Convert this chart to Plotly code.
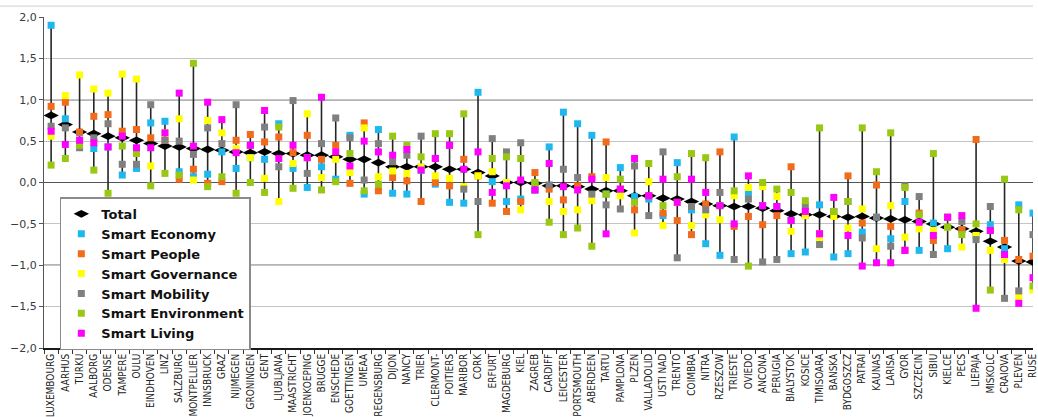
import plotly.graph_objects as go

cities = ["LUXEMBOURG", "AARHUS", "TURKU", "AALBORG", "ODENSE", "TAMPERE", "OULU", "EINDHOVEN",
          "LINZ", "SALZBURG", "MONTPELLIER", "INNSBRUCK", "GRAZ", "NIJMEGEN", "GRONINGEN", "GENT",
          "LJUBLJANA", "MAASTRICHT", "JOENKOEPING", "BRUGGE", "ENSCHEDE", "GOETTINGEN", "UMEAA",
          "REGENSBURG", "DIJON", "NANCY", "TRIER", "CLERMONT-", "POITIERS", "MARIBOR", "CORK",
          "ERFURT", "MAGDEBURG", "KIEL", "ZAGREB", "CARDIFF", "LEICESTER", "PORTSMOUTH", "ABERDEEN",
          "TARTU", "PAMPLONA", "PLZEN", "VALLADOLID", "USTI NAD", "TRENTO", "COIMBRA", "NITRA",
          "RZESZOW", "TRIESTE", "OVIEDO", "ANCONA", "PERUGIA", "BIALYSTOK", "KOSICE", "TIMISOARA",
          "BANSKA", "BYDGOSZCZ", "PATRAI", "KAUNAS", "LARISA", "GYOR", "SZCZECIN", "SIBIU",
          "KIELCE", "PECS", "LIEPAJA", "MISKOLC", "CRAIOVA", "PLEVEN", "RUSE"]

total = [0.81, 0.70, 0.61, 0.59, 0.56, 0.54, 0.51, 0.47, 0.44, 0.43,
         0.41, 0.40, 0.39, 0.37, 0.36, 0.37, 0.35, 0.35, 0.33, 0.33,
         0.31, 0.28, 0.28, 0.24, 0.19, 0.19, 0.19, 0.19, 0.16, 0.16,
         0.12, 0.08, 0.00, 0.00, -0.01, -0.04, -0.04, -0.05, -0.08, -0.10,
         -0.10, -0.16, -0.16, -0.19, -0.20, -0.23, -0.26, -0.28, -0.29, -0.29,
         -0.31, -0.34, -0.38, -0.39, -0.39, -0.41, -0.42, -0.41, -0.43, -0.44,
         -0.45, -0.47, -0.50, -0.54, -0.56, -0.59, -0.71, -0.78, -0.95, -0.96]

economy = [1.90, 0.77, 0.60, 0.41, 0.43, 0.09, 0.17, 0.72, 0.74, 0.13,
           0.07, 0.10, 0.37, 0.17, 0.30, 0.28, 0.71, 0.17, -0.06, 0.19,
           0.04, 0.57, -0.14, 0.64, -0.13, -0.14, 0.15, -0.02, -0.24, -0.25,
           1.09, 0.01, -0.23, -0.20, -0.09, 0.43, 0.85, 0.71, 0.57, -0.14,
           0.18, -0.17, -0.20, -0.40, 0.24, -0.33, -0.74, -0.88, 0.55, -0.12,
           -0.28, -0.29, -0.86, -0.84, -0.27, -0.90, -0.86, -0.60, -0.42, -0.68,
           -0.23, -0.82, -0.49, -0.80, -0.57, -0.64, -0.51, -0.80, -0.27, -0.37]

people = [0.92, 0.97, 0.61, 0.80, 0.82, 0.62, 0.64, 0.54, 0.51, 0.04,
          0.16, -0.01, 0.01, 0.51, 0.58, 0.49, 0.55, 0.36, 0.57, 0.28,
          0.45, -0.01, 0.72, -0.10, 0.06, 0.02, -0.23, 0.00, -0.04, 0.28,
          0.08, -0.25, -0.35, -0.23, 0.12, -0.08, -0.21, -0.04, 0.07, 0.49,
          -0.08, -0.33, -0.16, -0.37, -0.46, -0.63, -0.26, 0.37, -0.53, -0.41,
          -0.51, -0.40, 0.19, -0.40, -0.62, -0.35, 0.08, -0.49, -0.03, -0.53,
          -0.82, -0.37, -0.70, -0.42, -0.57, 0.52, -0.58, -0.70, -0.93, -0.89]

governance = [0.56, 1.05, 1.30, 1.13, 1.08, 1.31, 1.25, 0.20, 0.60, 0.77,
              0.03, 0.75, 0.60, 0.41, 0.30, 0.05, -0.23, 0.23, 0.83, 0.06,
              0.28, 0.12, 0.66, 0.07, 0.14, 0.11, 0.19, 0.08, 0.05, -0.05,
              0.08, 0.13, 0.00, -0.33, 0.00, -0.23, -0.35, -0.33, -0.22, 0.06,
              -0.16, -0.61, 0.01, -0.52, -0.24, -0.52, -0.39, -0.45, -0.16, -0.06,
              -0.05, -0.17, -0.59, -0.40, -0.67, -0.41, -0.55, -0.32, -0.80, -0.28,
              -0.66, -0.56, -0.58, -0.54, -0.78, -0.64, -0.82, -0.93, -1.39, -1.30]

mobility = [0.68, 0.66, 0.42, 0.54, 0.71, 0.22, 0.22, 0.94, 0.51, 0.50,
            0.34, 0.66, 0.47, 0.94, 0.45, 0.67, 0.19, 0.99, 0.11, 0.47,
            0.78, 0.54, 0.03, 0.47, 0.25, 0.33, 0.56, 0.29, 0.45, -0.08,
            -0.23, 0.53, 0.37, 0.48, -0.09, -0.03, 0.16, 0.06, -0.14, -0.27,
            -0.32, 0.20, -0.40, 0.37, -0.91, -0.29, -0.33, -0.12, -0.93, -0.20,
            -0.96, -0.93, -0.46, -0.29, -0.75, -0.35, -0.23, -0.67, -0.42, -0.77,
            -0.04, -0.17, -0.87, -0.42, -0.47, -0.69, -0.29, -1.40, -1.31, -0.63]

environment = [0.21, 0.29, 0.45, 0.15, -0.13, 0.44, 0.35, -0.04, 0.11, 0.09,
               1.44, -0.05, 0.07, -0.13, 0.00, -0.12, 0.67, -0.07, 0.30, -0.09,
               0.01, 0.35, -0.10, -0.02, 0.56, 0.45, 0.31, 0.59, 0.59, 0.83,
               -0.63, 0.29, 0.31, 0.29, 0.00, -0.48, -0.63, -0.55, -0.77, -0.14,
               0.04, -0.24, 0.23, -0.28, 0.07, 0.35, 0.30, -0.28, -0.10, -1.01,
               0.00, -0.08, -0.12, -0.22, 0.66, -0.35, -0.23, 0.66, 0.13, 0.60,
               -0.06, -0.39, 0.35, -0.54, -0.63, -0.50, -1.30, 0.04, -0.33, -1.25]

living = [0.62, 0.46, 0.51, 0.48, 0.43, 0.56, 0.42, 0.42, 0.60, 1.08,
          0.44, 0.97, 0.76, 0.36, 0.45, 0.87, 0.29, 0.45, 0.30, 1.03,
          0.37, 0.20, 0.50, 0.37, 0.33, 0.40, 0.15, 0.29, 0.45, 0.16,
          0.37, -0.12, -0.04, 0.03, -0.09, 0.23, -0.05, -0.09, 0.04, -0.62,
          -0.08, 0.29, -0.16, 0.04, -0.24, 0.04, -0.12, -0.28, -0.50, 0.08,
          -0.28, -0.29, -0.46, -0.35, -0.62, -0.18, -0.64, -1.01, -0.97, -0.97,
          -0.82, -0.48, -0.64, -0.42, -0.40, -1.52, -0.58, -0.87, -1.46, -1.15]

series_names = ["Smart Economy", "Smart People", "Smart Governance", "Smart Mobility",
                "Smart Environment", "Smart Living"]
series_values = [economy, people, governance, mobility, environment, living]
series_colors = ["#1fb8ee", "#f26a1b", "#ffff00", "#808080", "#99c814", "#ff00ff"]

major_grid = [-1, 1]

fig = go.Figure()

# high-low lines (min to max of all series for each city)
hl_x, hl_y = [], []
for i, c in enumerate(cities):
    vals = [total[i]] + [s[i] for s in series_values]
    hl_x += [c, c, None]
    hl_y += [min(vals), max(vals), None]
fig.add_trace(go.Scatter(x=hl_x, y=hl_y, mode="lines", line=dict(color="#262626", width=1.6),
                         showlegend=False, hoverinfo="skip"))

fig.add_trace(go.Scatter(x=cities, y=total, mode="markers", name="Total",
                         marker=dict(symbol="diamond-wide", size=11, color="black")))
for name, vals, col in zip(series_names, series_values, series_colors):
    fig.add_trace(go.Scatter(x=cities, y=vals, mode="markers", name=name,
                             marker=dict(symbol="square", size=7, color=col, line=dict(width=0))))

shapes = []
for g in major_grid:
    shapes.append(dict(type="line", xref="paper", yref="y", x0=0, x1=1, y0=g, y1=g,
                       line=dict(color="#6e6e6e", width=1.3), layer="below"))
shapes.append(dict(type="line", xref="paper", yref="paper", x0=-0.045, x1=1, y0=1.033, y1=1.033,
                   line=dict(color="#d0d0d0", width=1)))
fig.update_layout(shapes=shapes)

fig.update_layout(
    width=1038, height=417,
    margin=dict(l=44, r=0, t=17, b=69),
    paper_bgcolor="white", plot_bgcolor="white",
    separators=",.",
    showlegend=True,
    legend=dict(x=0.016, y=0.455, xanchor="left", yanchor="top",
                bgcolor="white", bordercolor="#8a8a8a", borderwidth=1.5,
                font=dict(family="DejaVu Sans", size=13, color="#111111", weight="bold"),
                tracegroupgap=0),
    xaxis=dict(type="category", range=[-0.5, 69.0], tickangle=-90,
               tickfont=dict(family="Liberation Sans Narrow, DejaVu Sans Condensed, Arial Narrow, Liberation Sans",
                             size=10, color="#222222"),
               ticks="outside", tickson="boundaries", ticklen=4, tickcolor="#333333",
               showline=True, linecolor="#1a1a1a", linewidth=1.5, showgrid=False, zeroline=False),
    yaxis=dict(range=[-2, 2], dtick=0.5, tick0=0, tickformat=".1f",
               tickfont=dict(family="DejaVu Sans", size=11, color="#3a3a3a"),
               ticks="outside", ticklen=4, tickcolor="#555555",
               showline=True, linecolor="#555555", linewidth=1.3,
               showgrid=True, gridcolor="#c4c4c4", gridwidth=1,
               zeroline=True, zerolinecolor="#555555", zerolinewidth=1.3),
)

fig.write_html("out.html", config={"displayModeBar": False},
               post_script="document.body.style.margin='0px';")
